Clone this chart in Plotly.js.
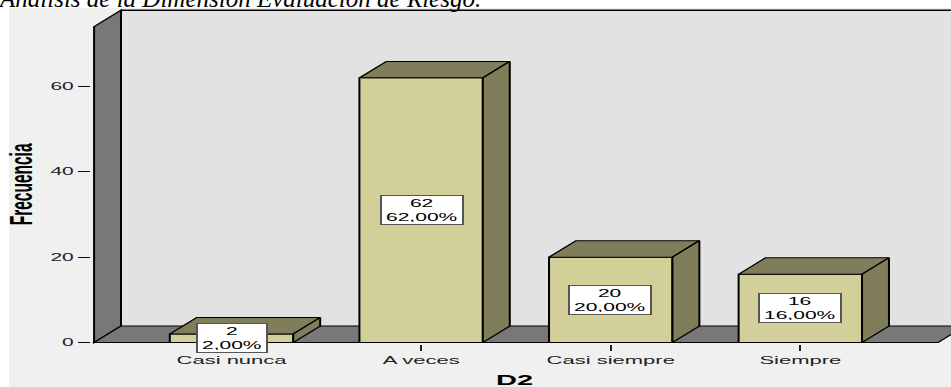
<!DOCTYPE html>
<html>
<head>
<meta charset="utf-8">
<script src="https://cdn.plot.ly/plotly-3.0.1.min.js"></script>
<style>
  html, body { margin: 0; padding: 0; background: #ffffff; overflow: hidden; width: 951px; height: 387px; }
  #wrap { position: relative; width: 951px; height: 387px; overflow: hidden; }
  /* the SPSS output is laid out narrow and widened 2x horizontally */
  #chart { position: absolute; left: 0; top: 0; width: 476px; height: 387px; transform: scaleX(2); transform-origin: 0 0; }
  #caption { position: absolute; left: 0; top: 0; width: 951px; height: 30px; pointer-events: none; }
</style>
</head>
<body>
<div id="wrap">
  <div id="chart"></div>
  <div id="caption"></div>
</div>
<script>
// ---- data ----
const categories = ['Casi nunca', 'A veces', 'Casi siempre', 'Siempre'];
const counts = [2, 62, 20, 16];
const yTickValues = [0, 20, 40, 60];
const captionText = 'Análisis de la Dimensión Evaluación de Riesgo.';
const xTitle = 'D2';
const yTitle = 'Frecuencia';

// ---- 3D look (data units) ----
const BAR_W = 0.651;      // bar width in category units
const DX = 0.142;         // depth offset, x
const DY = 3.86;          // depth offset, y
const WALL_X = -0.725;    // front edge of the side wall
const WALL_TOP = 74;      // height of the walls
const FLOOR_END = 3.726;  // front right corner of the floor

const FRONT = '#d3cf98';
const SHADE = '#807e5a';
const WALL = '#787878';
const BACK = '#e2e2e2';
const PANEL = '#f0f0f0';
const FONT = 'Liberation Sans, Arial, sans-serif';

const total = counts.reduce((a, b) => a + b, 0);
const percents = counts.map(v => (v / total * 100).toFixed(2).replace('.', ',') + '%');
const xs = categories.map((_, i) => i);

// front faces
const traces = [{
  type: 'bar',
  x: xs,
  y: counts,
  width: BAR_W,
  marker: { color: FRONT, line: { color: '#000000', width: 1 } },
  hoverinfo: 'skip'
}];

// top and right-hand faces of each bar
counts.forEach((v, i) => {
  const l = i - BAR_W / 2, r = i + BAR_W / 2;
  traces.push({
    type: 'scatter', mode: 'lines', fill: 'toself', fillcolor: SHADE,
    line: { color: '#000000', width: 1 }, hoverinfo: 'skip',
    x: [l, r, r + DX, l + DX, l],
    y: [v, v, v + DY, v + DY, v]
  });
  traces.push({
    type: 'scatter', mode: 'lines', fill: 'toself', fillcolor: SHADE,
    line: { color: '#000000', width: 1 }, hoverinfo: 'skip',
    x: [r, r + DX, r + DX, r, r],
    y: [0, DY, v + DY, v, 0]
  });
});

const labelAnnotations = counts.map((v, i) => ({
  x: i, y: v / 2, xref: 'x', yref: 'y',
  text: v + '<br>' + percents[i],
  showarrow: false,
  font: { family: FONT, size: 10.5, color: '#000000' },
  bgcolor: '#ffffff', bordercolor: '#555555', borderwidth: 1, borderpad: 2,
  height: 24, align: 'center', valign: 'middle'
}));

const shapes = [
  // chart panel
  { type: 'rect', layer: 'below', xref: 'paper', yref: 'paper',
    x0: -0.0965, x1: 1.02, y0: -0.25, y1: 1.0,
    fillcolor: PANEL, line: { width: 0 } },
  // back wall
  { type: 'rect', layer: 'below', xref: 'x', yref: 'y',
    x0: WALL_X + DX, x1: 4.2, y0: DY, y1: WALL_TOP + DY,
    fillcolor: BACK, line: { width: 0 } },
  { type: 'line', layer: 'below', xref: 'x', yref: 'y',
    x0: WALL_X + DX, x1: 4.2, y0: WALL_TOP + DY, y1: WALL_TOP + DY,
    line: { color: '#000000', width: 1.5 } },
  // side wall
  { type: 'path', layer: 'below', xref: 'x', yref: 'y',
    path: `M ${WALL_X},0 L ${WALL_X},${WALL_TOP} L ${WALL_X + DX},${WALL_TOP + DY} L ${WALL_X + DX},${DY} Z`,
    fillcolor: WALL, line: { color: '#000000', width: 1 } },
  // floor
  { type: 'path', layer: 'below', xref: 'x', yref: 'y',
    path: `M ${WALL_X},0 L ${FLOOR_END},0 L ${FLOOR_END + DX},${DY} L ${WALL_X + DX},${DY} Z`,
    fillcolor: WALL, line: { color: '#000000', width: 1 } }
];

const layout = {
  width: 476,
  height: 387,
  margin: { l: 46, r: 0, t: 8, b: 43 },
  paper_bgcolor: 'rgba(0,0,0,0)',
  plot_bgcolor: 'rgba(0,0,0,0)',
  showlegend: false,
  xaxis: {
    range: [-0.736, 3.80],
    tickmode: 'array', tickvals: xs, ticktext: categories,
    ticks: 'outside', ticklen: 6, tickwidth: 1, tickcolor: '#222222',
    tickfont: { family: FONT, size: 11, color: '#222222' },
    showgrid: false, zeroline: false, showline: false, fixedrange: true
  },
  yaxis: {
    range: [-0.35, 78.37],
    tickmode: 'array', tickvals: yTickValues,
    ticks: 'outside', ticklen: 6, tickwidth: 1, tickcolor: '#111111',
    tickfont: { family: FONT, size: 10.5, color: '#222222' },
    showgrid: false, zeroline: false, showline: false, fixedrange: true
  },
  shapes: shapes,
  annotations: labelAnnotations.concat([
    { xref: 'paper', yref: 'y', x: -0.082, y: WALL_TOP / 2,
      text: yTitle, textangle: -90, showarrow: false,
      xanchor: 'center', yanchor: 'middle',
      font: { family: FONT, size: 15.5, weight: 'bold', color: '#000000' } },
    { xref: 'paper', yref: 'paper', x: 0.492, y: -0.078,
      text: xTitle, showarrow: false, xanchor: 'center', yanchor: 'top',
      font: { family: FONT, size: 14.5, weight: 'bold', color: '#000000' } }
  ])
};

Plotly.newPlot('chart', traces, layout, { staticPlot: true, displayModeBar: false });

// document caption above the chart
Plotly.newPlot('caption', [], {
  width: 951, height: 30,
  margin: { l: 0, r: 0, t: 0, b: 0 },
  paper_bgcolor: 'rgba(0,0,0,0)', plot_bgcolor: 'rgba(0,0,0,0)',
  xaxis: { visible: false }, yaxis: { visible: false },
  title: {
    text: captionText,
    font: { family: 'Liberation Serif, Times New Roman, serif', size: 25, style: 'italic', color: '#000000' },
    xref: 'container', x: 0, xanchor: 'left',
    yref: 'container', y: 1 - 7 / 30, yanchor: 'bottom'
  }
}, { staticPlot: true, displayModeBar: false });
</script>
</body>
</html>
